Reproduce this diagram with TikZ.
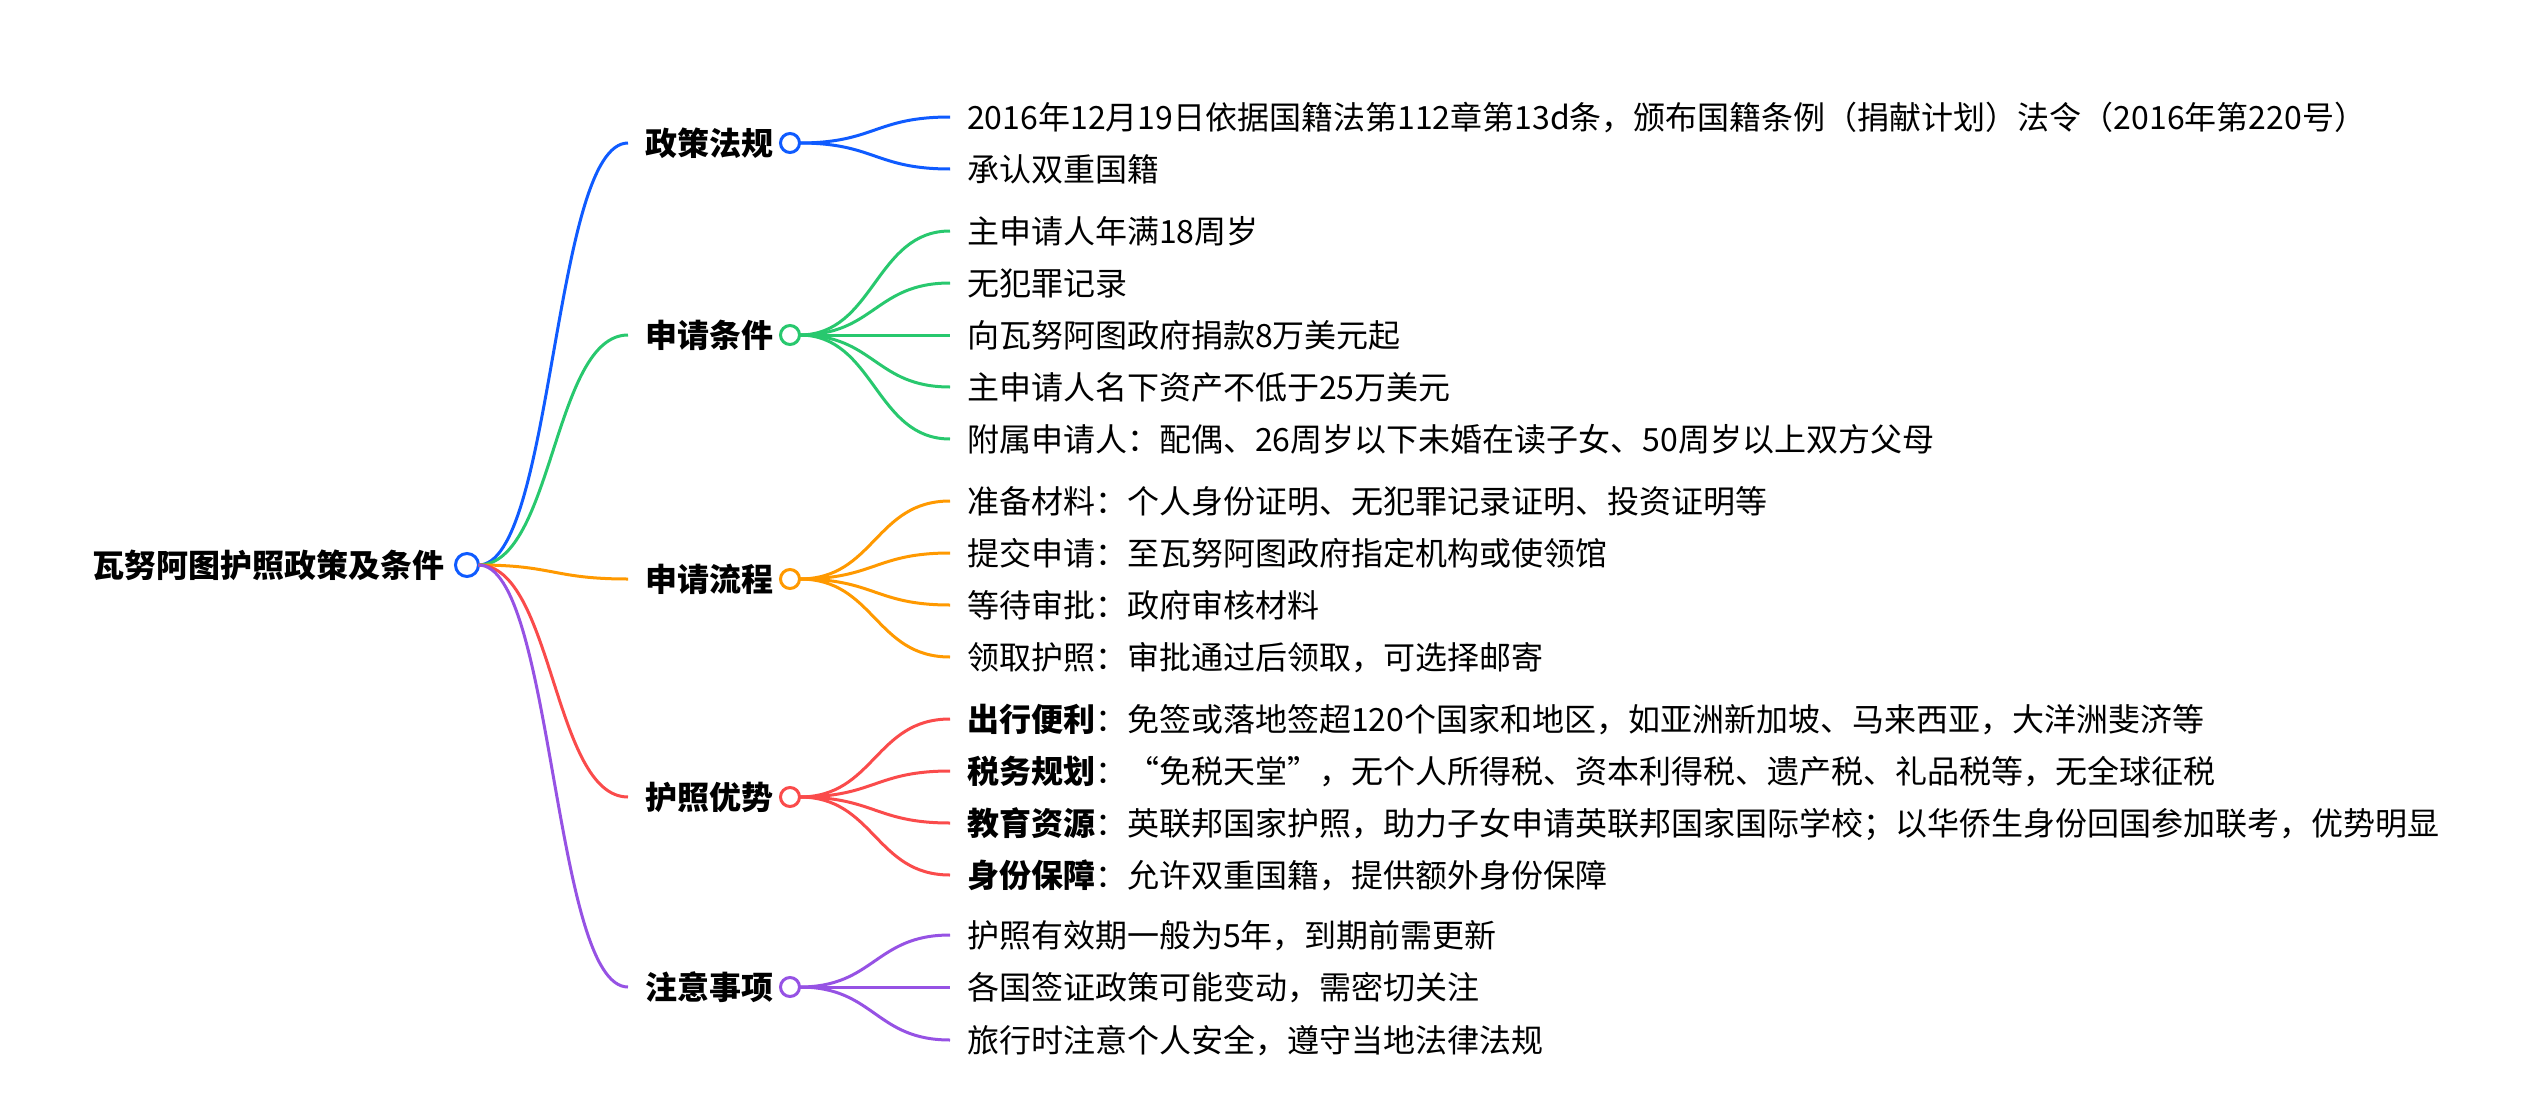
\documentclass[tikz,border=0pt]{standalone}
\usepackage{fontspec}
\setmainfont{Noto Sans CJK SC}
\newcommand{\mapfont}{\fontsize{32}{38}\selectfont}
\definecolor{cblue}{RGB}{15,91,255}
\definecolor{cgreen}{RGB}{40,200,110}
\definecolor{corange}{RGB}{255,153,0}
\definecolor{cred}{RGB}{250,75,75}
\definecolor{cpurple}{RGB}{150,82,228}
\tikzset{
  topic/.style={font=\mapfont\bfseries, anchor=east, inner sep=0pt, text height=24pt, text depth=0pt},
  branch/.style={font=\mapfont\bfseries, anchor=west, inner xsep=17pt, inner ysep=0pt, text height=24pt, text depth=0pt},
  leaf/.style={font=\mapfont, anchor=west, inner xsep=17pt, inner ysep=0pt, text height=24pt, text depth=0pt},
  dot/.style={circle, draw=#1, line width=3pt, fill=white, minimum size=19pt, inner sep=0pt, outer sep=0pt},
  link/.style={draw=#1, line width=3pt},
}
\begin{document}
\begin{tikzpicture}[x=1pt,y=-1pt]
  \useasboundingbox (0,0) rectangle (2536,1108);
  % centre
  \node[topic] (root) at (445,565) {瓦努阿图护照政策及条件};
  \node[dot=cblue, minimum size=23pt] (rootd) at (467,565) {};
  % first level
  \node[branch] (pol) at (628,143) {政策法规};
  \node[branch] (req) at (628,335) {申请条件};
  \node[branch] (proc) at (628,579) {申请流程};
  \node[branch] (adv) at (628,797) {护照优势};
  \node[branch] (note) at (628,987) {注意事项};
  \draw[link=cblue] (rootd.east) .. controls +(75,0) and +(-75,0) .. (pol.west);
  \draw[link=cgreen] (rootd.east) .. controls +(75,0) and +(-75,0) .. (req.west);
  \draw[link=corange] (rootd.east) .. controls +(75,0) and +(-75,0) .. (proc.west);
  \draw[link=cred] (rootd.east) .. controls +(75,0) and +(-75,0) .. (adv.west);
  \draw[link=cpurple] (rootd.east) .. controls +(75,0) and +(-75,0) .. (note.west);
  \node[dot=cblue] (pold) at (790,143) {};
  \node[dot=cgreen] (reqd) at (790,335) {};
  \node[dot=corange] (procd) at (790,579) {};
  \node[dot=cred] (advd) at (790,797) {};
  \node[dot=cpurple] (noted) at (790,987) {};
  % policy
  \node[leaf] (pol1) at (950,117) {2016年12月19日依据国籍法第112章第13d条，颁布国籍条例（捐献计划）法令（2016年第220号）};
  \node[leaf] (pol2) at (950,169) {承认双重国籍};
  \draw[link=cblue] (pold.east) .. controls +(75,0) and +(-75,0) .. (pol1.west);
  \draw[link=cblue] (pold.east) .. controls +(75,0) and +(-75,0) .. (pol2.west);
  % requirements
  \node[leaf] (req1) at (950,231) {主申请人年满18周岁};
  \node[leaf] (req2) at (950,283) {无犯罪记录};
  \node[leaf] (req3) at (950,335) {向瓦努阿图政府捐款8万美元起};
  \node[leaf] (req4) at (950,387) {主申请人名下资产不低于25万美元};
  \node[leaf] (req5) at (950,439) {附属申请人：配偶、26周岁以下未婚在读子女、50周岁以上双方父母};
  \draw[link=cgreen] (reqd.east) .. controls +(75,0) and +(-75,0) .. (req1.west);
  \draw[link=cgreen] (reqd.east) .. controls +(75,0) and +(-75,0) .. (req2.west);
  \draw[link=cgreen] (reqd.east) -- (req3.west);
  \draw[link=cgreen] (reqd.east) .. controls +(75,0) and +(-75,0) .. (req4.west);
  \draw[link=cgreen] (reqd.east) .. controls +(75,0) and +(-75,0) .. (req5.west);
  % process
  \node[leaf] (proc1) at (950,501) {准备材料：个人身份证明、无犯罪记录证明、投资证明等};
  \node[leaf] (proc2) at (950,553) {提交申请：至瓦努阿图政府指定机构或使领馆};
  \node[leaf] (proc3) at (950,605) {等待审批：政府审核材料};
  \node[leaf] (proc4) at (950,657) {领取护照：审批通过后领取，可选择邮寄};
  \draw[link=corange] (procd.east) .. controls +(75,0) and +(-75,0) .. (proc1.west);
  \draw[link=corange] (procd.east) .. controls +(75,0) and +(-75,0) .. (proc2.west);
  \draw[link=corange] (procd.east) .. controls +(75,0) and +(-75,0) .. (proc3.west);
  \draw[link=corange] (procd.east) .. controls +(75,0) and +(-75,0) .. (proc4.west);
  % advantages
  \node[leaf] (adv1) at (950,719) {\textbf{出行便利}：免签或落地签超120个国家和地区，如亚洲新加坡、马来西亚，大洋洲斐济等};
  \node[leaf] (adv2) at (950,771) {\textbf{税务规划}：“免税天堂”，无个人所得税、资本利得税、遗产税、礼品税等，无全球征税};
  \node[leaf] (adv3) at (950,823) {\textbf{教育资源}：英联邦国家护照，助力子女申请英联邦国家国际学校；以华侨生身份回国参加联考，优势明显};
  \node[leaf] (adv4) at (950,875) {\textbf{身份保障}：允许双重国籍，提供额外身份保障};
  \draw[link=cred] (advd.east) .. controls +(75,0) and +(-75,0) .. (adv1.west);
  \draw[link=cred] (advd.east) .. controls +(75,0) and +(-75,0) .. (adv2.west);
  \draw[link=cred] (advd.east) .. controls +(75,0) and +(-75,0) .. (adv3.west);
  \draw[link=cred] (advd.east) .. controls +(75,0) and +(-75,0) .. (adv4.west);
  % notes
  \node[leaf] (note1) at (950,935) {护照有效期一般为5年，到期前需更新};
  \node[leaf] (note2) at (950,987) {各国签证政策可能变动，需密切关注};
  \node[leaf] (note3) at (950,1040) {旅行时注意个人安全，遵守当地法律法规};
  \draw[link=cpurple] (noted.east) .. controls +(75,0) and +(-75,0) .. (note1.west);
  \draw[link=cpurple] (noted.east) -- (note2.west);
  \draw[link=cpurple] (noted.east) .. controls +(75,0) and +(-75,0) .. (note3.west);
\end{tikzpicture}
\end{document}
